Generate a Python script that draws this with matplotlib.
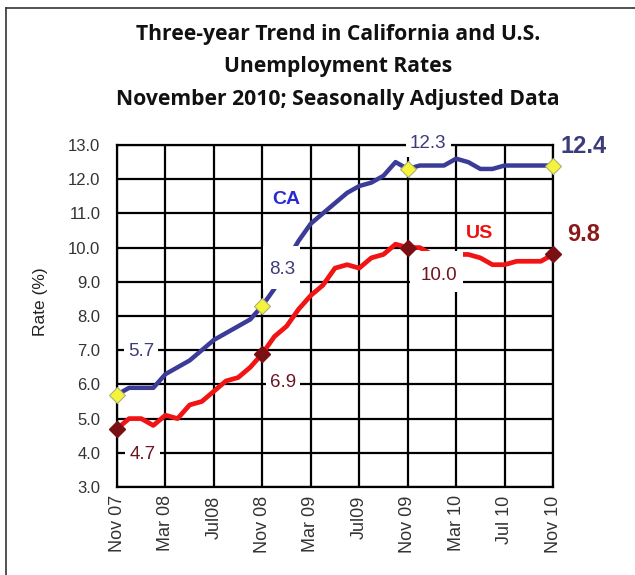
import numpy as np
import matplotlib
matplotlib.use("Agg")
import matplotlib.pyplot as plt
from matplotlib.lines import Line2D
from matplotlib.patches import Rectangle

months = ["Nov 07", "Dec 07", "Jan 08", "Feb 08", "Mar 08", "Apr 08", "May 08", "Jun 08",
          "Jul 08", "Aug 08", "Sep 08", "Oct 08", "Nov 08", "Dec 08", "Jan 09", "Feb 09",
          "Mar 09", "Apr 09", "May 09", "Jun 09", "Jul 09", "Aug 09", "Sep 09", "Oct 09",
          "Nov 09", "Dec 09", "Jan 10", "Feb 10", "Mar 10", "Apr 10", "May 10", "Jun 10",
          "Jul 10", "Aug 10", "Sep 10", "Oct 10", "Nov 10"]
tick_labels = ["Nov 07", "Mar 08", "Jul08", "Nov 08", "Mar 09", "Jul09",
               "Nov 09", "Mar 10", "Jul 10", "Nov 10"]
ca = [5.7, 5.9, 5.9, 5.9, 6.3, 6.5, 6.7, 7.0, 7.3, 7.5, 7.7, 7.9, 8.3,
      8.8, 9.6, 10.2, 10.7, 11.0, 11.3, 11.6, 11.8, 11.9, 12.1, 12.5, 12.3,
      12.4, 12.4, 12.4, 12.6, 12.5, 12.3, 12.3, 12.4, 12.4, 12.4, 12.4, 12.4]
us = [4.7, 5.0, 5.0, 4.8, 5.1, 5.0, 5.4, 5.5, 5.8, 6.1, 6.2, 6.5, 6.9,
      7.4, 7.7, 8.2, 8.6, 8.9, 9.4, 9.5, 9.4, 9.7, 9.8, 10.1, 10.0,
      10.0, 9.8, 9.8, 9.8, 9.8, 9.7, 9.5, 9.5, 9.6, 9.6, 9.6, 9.8]
marker_idx = [0, 12, 24, 36]

CA_LINE = "#3b3b98"
CA_TXT = "#3c3c7a"
US_LINE = "#f01414"
US_TXT = "#6e1420"

fig = plt.figure(figsize=(6.35, 5.75), dpi=100)
ax = fig.add_axes([117/635, 1-487/575, (553-117)/635, (487-145)/575])

x = np.arange(len(months))
ax.plot(x, ca, color=CA_LINE, lw=3.2, zorder=3)
ax.plot(x, us, color=US_LINE, lw=3.4, zorder=3)
ax.plot(x[marker_idx], np.array(ca)[marker_idx], ls="none", marker="D", ms=8,
        mfc="#f4f43c", mec="#b0b070", mew=0.8, zorder=8, clip_on=False)
ax.plot(x[marker_idx], np.array(us)[marker_idx], ls="none", marker="D", ms=8,
        mfc="#7a0f14", mec="#7a0f14", zorder=8, clip_on=False)

ax.set_xlim(0, 36)
ax.set_ylim(3, 13)
yt = np.arange(3, 13.1, 1)
ax.set_yticks(yt)
ax.set_yticklabels([f"{v:.1f}" for v in yt])
ax.set_xticks(np.arange(0, 37, 4))
ax.set_xticklabels(tick_labels, rotation=90)
ax.grid(True, color="black", lw=1.6, zorder=1)
ax.set_axisbelow(True)
for s in ax.spines.values():
    s.set_linewidth(1.6)
    s.set_zorder(2)
ax.tick_params(length=0, labelcolor="#333333")
ax.tick_params(axis="y", labelsize=12, pad=12)
ax.tick_params(axis="x", labelsize=13, pad=6)
for t in ax.get_xticklabels() + ax.get_yticklabels():
    t.set_fontfamily("Liberation Sans")
ax.set_ylabel("Rate (%)", fontfamily="Liberation Sans", fontsize=12.5, color="#222222")
ax.yaxis.set_label_coords(-(117-48)/436, (487-302)/342)

box = dict(facecolor="white", edgecolor="none", pad=3)
def lab(xv, yv, s, c):
    ax.text(xv, yv, s, color=c, fontfamily="Liberation Sans", fontsize=13.5,
            ha="center", va="center", bbox=box, zorder=7, clip_on=False)

# white cut-outs behind two labels
ax.add_patch(Rectangle((12.05, 8.8), 3.05, 1.25, facecolor="white", edgecolor="none", zorder=6))
ax.add_patch(Rectangle((24.2, 8.7), 4.4, 1.2, facecolor="white", edgecolor="none", zorder=6))

lab(2.0, 6.95, "5.7", CA_TXT)
lab(2.1, 3.95, "4.7", US_TXT)
lab(13.6, 9.36, "8.3", CA_TXT)
lab(13.7, 6.05, "6.9", US_TXT)
lab(25.7, 13.03, "12.3", CA_TXT)
lab(26.6, 9.18, "10.0", US_TXT)

ax.text(14.0, 11.4, "CA", color="#2a2ad2", fontsize=14, fontweight="bold",
        fontfamily="Liberation Sans", ha="center", va="center", zorder=7)
ax.text(29.9, 10.4, "US", color="#ee1111", fontsize=14, fontweight="bold",
        fontfamily="Liberation Sans", ha="center", va="center", zorder=7)
ax.text(38.5, 12.97, "12.4", color=CA_TXT, fontsize=17, fontweight="bold",
        fontfamily="Liberation Sans", ha="center", va="center", clip_on=False)
ax.text(38.5, 10.37, "9.8", color="#8a1a1a", fontsize=17, fontweight="bold",
        fontfamily="Liberation Sans", ha="center", va="center", clip_on=False)

title = "Three-year Trend in California and U.S.\nUnemployment Rates\nNovember 2010; Seasonally Adjusted Data"
fig.text(338/635, 1-67/575, title, ha="center", va="center", fontsize=15.2,
         fontweight="bold", fontfamily="Open Sans", linespacing=1.72, color="#111111")

# outer frame (top and left edges)
fig.add_artist(Line2D([6/635, 1], [1-8/575, 1-8/575], color="#333333", lw=1.2))
fig.add_artist(Line2D([6/635, 6/635], [0, 1-8/575], color="#333333", lw=1.2))

fig.savefig("out.png", dpi=100)
